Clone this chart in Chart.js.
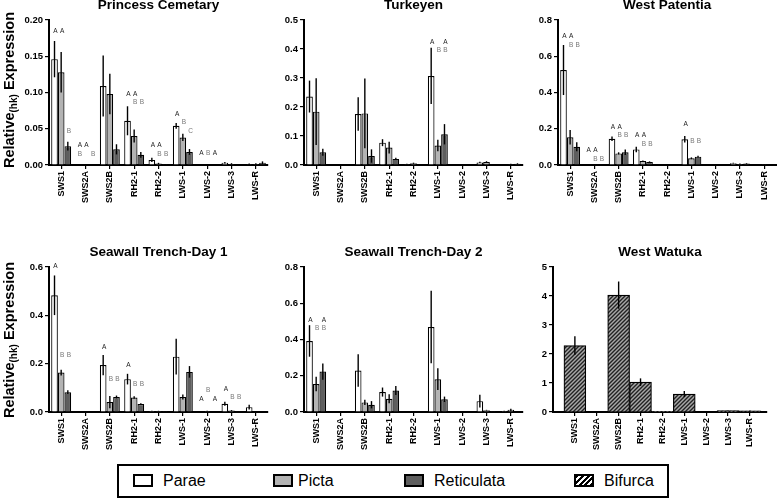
<!DOCTYPE html>
<html><head><meta charset="utf-8">
<script src="https://cdn.jsdelivr.net/npm/chart.js@4"></script>
<style>
html,body{margin:0;padding:0;background:#fff;}
body{width:777px;height:500px;position:relative;overflow:hidden;font-family:'Liberation Sans',Arial,sans-serif;}
canvas{position:absolute;}
.ylab{position:absolute;width:220px;height:18px;line-height:18px;text-align:center;font-weight:bold;font-size:14.5px;transform:rotate(-90deg);white-space:nowrap;color:#000;}
.ylab sub{font-size:10px;vertical-align:-3px;line-height:0;}
#legend{position:absolute;left:117px;top:464px;width:552px;height:34px;border:2px solid #000;box-sizing:border-box;}
.lbox{position:absolute;top:474px;width:20px;height:13px;border:2px solid #000;box-sizing:border-box;}
.ltxt{position:absolute;top:471px;font-size:16px;line-height:20px;color:#000;}
</style>
</head><body>
<canvas id="c1" width="270" height="213" style="left:0px;top:-3px"></canvas>
<canvas id="c2" width="270" height="213" style="left:255px;top:-3px"></canvas>
<canvas id="c3" width="268" height="213" style="left:509px;top:-3px"></canvas>
<canvas id="c4" width="270" height="213" style="left:0px;top:244px"></canvas>
<canvas id="c5" width="270" height="213" style="left:255px;top:244px"></canvas>
<canvas id="c6" width="260" height="213" style="left:509px;top:244px"></canvas>
<div class="ylab" style="left:-101px;top:81px">Relative<sub>(hk)</sub> Expression</div>
<div class="ylab" style="left:-101px;top:331px">Relative<sub>(hk)</sub> Expression</div>
<div id="legend"></div>
<div class="lbox" style="left:133px;background:#fff"></div><div class="ltxt" style="left:163px">Parae</div>
<div class="lbox" style="left:273px;background:#b3b3b3"></div><div class="ltxt" style="left:298px">Picta</div>
<div class="lbox" style="left:404px;background:#5e5e5e"></div><div class="ltxt" style="left:434px">Reticulata</div>
<div class="lbox" style="left:574px;background:repeating-linear-gradient(135deg,#000 0 2px,#fff 2px 4px)"></div><div class="ltxt" style="left:604px">Bifurca</div>
<script>
// ---- categories and series ----
const categories = ['SWS1','SWS2A','SWS2B','RH2-1','RH2-2','LWS-1','LWS-2','LWS-3','LWS-R'];
const seriesNames = ['Parae','Picta','Reticulata','Bifurca'];

// Princess Cemetary
const pcParae        = [0.146, 0, 0.109, 0.061, 0.007, 0.054, 0, 0.003, 0.001];
const pcParaeErr     = [0.025, 0, 0.042, 0.020, 0.003, 0.004, 0, 0.001, 0.001];
const pcPicta        = [0.128, 0, 0.098, 0.040, 0.002, 0.038, 0, 0.0015, 0.0015];
const pcPictaErr     = [0.028, 0, 0.028, 0.009, 0.001, 0.005, 0, 0.001, 0.001];
const pcReticulata   = [0.026, 0, 0.0216, 0.014, 0.001, 0.018, 0, 0.0005, 0.003];
const pcReticulataErr= [0.006, 0, 0.007, 0.004, 0.0005, 0.004, 0, 0.0005, 0.002];
const pcLetters = [[0,0,'A',0.184],[0,1,'A',0.184],[0,2,'B',0.047],
  [1,0,'A',0.027],[1,1,'A',0.027],[1,0,'B',0.015],[1,2,'B',0.015],
  [3,0,'A',0.097],[3,1,'A',0.097],[3,1,'B',0.086],[3,2,'B',0.086],
  [4,0,'A',0.027],[4,1,'A',0.027],[4,1,'B',0.015],[4,2,'B',0.015],
  [5,0,'A',0.070],[5,1,'B',0.059],[5,2,'C',0.047],
  [6,0,'A',0.016],[6,1,'B',0.016],[6,2,'A',0.016]];

// Turkeyen
const tkParae        = [0.236, 0, 0.176, 0.077, 0.003, 0.307, 0, 0.009, 0.002];
const tkParaeErr     = [0.055, 0, 0.058, 0.012, 0.001, 0.097, 0, 0.002, 0.001];
const tkPicta        = [0.184, 0, 0.178, 0.060, 0.006, 0.067, 0, 0.010, 0.003];
const tkPictaErr     = [0.115, 0, 0.120, 0.020, 0.002, 0.020, 0, 0.003, 0.001];
const tkReticulata   = [0.044, 0, 0.031, 0.021, 0.001, 0.106, 0, 0.002, 0.004];
const tkReticulataErr= [0.012, 0, 0.023, 0.004, 0.001, 0.035, 0, 0.001, 0.002];
const tkLetters = [[5,0,'A',0.425],[5,2,'A',0.425],[5,1,'B',0.397],[5,2,'B',0.397]];

// West Patentia
const wpParae        = [0.524, 0, 0.145, 0.086, 0, 0.142, 0, 0.010, 0.003];
const wpParaeErr     = [0.138, 0, 0.012, 0.015, 0, 0.018, 0, 0.002, 0.001];
const wpPicta        = [0.153, 0, 0.064, 0.022, 0, 0.037, 0, 0.006, 0.004];
const wpPictaErr     = [0.040, 0, 0.006, 0.003, 0, 0.005, 0, 0.002, 0.001];
const wpReticulata   = [0.101, 0, 0.070, 0.017, 0, 0.046, 0, 0.008, 0.002];
const wpReticulataErr= [0.025, 0, 0.015, 0.003, 0, 0.005, 0, 0.002, 0.001];
const wpLetters = [[0,0,'A',0.708],[0,1,'A',0.708],[0,1,'B',0.662],[0,2,'B',0.662],
  [1,0,'A',0.079],[1,1,'A',0.079],[1,1,'B',0.031],[1,2,'B',0.031],
  [2,0,'A',0.210],[2,1,'A',0.210],[2,1,'B',0.162],[2,2,'B',0.162],
  [3,0,'A',0.162],[3,1,'A',0.162],[3,1,'B',0.114],[3,2,'B',0.114],
  [5,0,'A',0.224],[5,1,'B',0.129],[5,2,'B',0.129]];

// Seawall Trench-Day 1
const sd1Parae        = [0.483, 0, 0.194, 0.136, 0.004, 0.229, 0.001, 0.034, 0.020];
const sd1ParaeErr     = [0.082, 0, 0.042, 0.022, 0.001, 0.074, 0.001, 0.008, 0.010];
const sd1Picta        = [0.163, 0, 0.041, 0.060, 0.004, 0.062, 0.004, 0.006, 0.002];
const sd1PictaErr     = [0.012, 0, 0.025, 0.005, 0.001, 0.010, 0.001, 0.002, 0.001];
const sd1Reticulata   = [0.082, 0, 0.062, 0.033, 0.003, 0.166, 0.001, 0.003, 0.001];
const sd1ReticulataErr= [0.008, 0, 0.006, 0.003, 0.001, 0.024, 0.001, 0.001, 0.001];
const sd1Letters = [[0,0,'A',0.603],[0,1,'B',0.236],[0,2,'B',0.236],
  [2,0,'A',0.268],[2,1,'B',0.137],[2,2,'B',0.137],
  [3,0,'A',0.195],[3,1,'B',0.113],[3,2,'B',0.113],
  [6,0,'A',0.055],[6,1,'B',0.092],[6,2,'A',0.055],
  [7,0,'A',0.095],[7,1,'B',0.060],[7,2,'B',0.060]];

// Seawall Trench-Day 2
const sd2Parae        = [0.392, 0, 0.229, 0.110, 0.003, 0.469, 0, 0.060, 0.005];
const sd2ParaeErr     = [0.087, 0, 0.090, 0.025, 0.001, 0.200, 0, 0.035, 0.002];
const sd2Picta        = [0.154, 0, 0.053, 0.073, 0.001, 0.181, 0, 0.010, 0.012];
const sd2PictaErr     = [0.040, 0, 0.015, 0.025, 0.001, 0.060, 0, 0.002, 0.006];
const sd2Reticulata   = [0.223, 0, 0.040, 0.119, 0, 0.070, 0, 0.004, 0.003];
const sd2ReticulataErr= [0.045, 0, 0.020, 0.025, 0, 0.015, 0, 0.001, 0.001];
const sd2Letters = [[0,0,'A',0.507],[0,1,'B',0.460],[0,2,'A',0.507],[0,2,'B',0.460]];

// West Watuka
const wwBifurca    = [2.29, 0, 4.03, 1.03, 0.01, 0.62, 0, 0.05, 0.04];
const wwBifurcaErr = [0.32, 0, 0.47, 0.13, 0, 0.10, 0, 0.01, 0.01];

// ---- styling ----
const FONT = "'Liberation Sans', Arial, sans-serif";
const NARROW = "'Liberation Sans Narrow', 'Liberation Sans', Arial, sans-serif";
const COLORS = {Parae:'#ffffff', Picta:'#b3b3b3', Reticulata:'#5e5e5e'};
Chart.defaults.font.family = FONT;
Chart.defaults.color = '#000';

function hatchPattern(){
  const c = document.createElement('canvas'); c.width = 4; c.height = 4;
  const g = c.getContext('2d');
  g.fillStyle = '#a8a8a8'; g.fillRect(0,0,4,4);
  g.strokeStyle = '#222'; g.lineWidth = 1.4; g.beginPath();
  g.moveTo(-1,5); g.lineTo(5,-1); g.moveTo(-1,1); g.lineTo(1,-1); g.moveTo(3,5); g.lineTo(5,3);
  g.stroke();
  return g.createPattern(c,'repeat');
}

const errorBars = {
  id:'errorBars',
  afterDatasetsDraw(chart){
    const ctx = chart.ctx, y = chart.scales.y;
    ctx.save(); ctx.strokeStyle = '#000'; ctx.lineWidth = 1.4;
    chart.data.datasets.forEach((ds,i)=>{
      const meta = chart.getDatasetMeta(i);
      (ds.errors||[]).forEach((e,j)=>{
        if(!e) return;
        const v = ds.data[j], bar = meta.data[j];
        ctx.beginPath();
        ctx.moveTo(bar.x, y.getPixelForValue(v+e));
        ctx.lineTo(bar.x, y.getPixelForValue(Math.max(v-e,0)));
        ctx.stroke();
      });
    });
    ctx.restore();
  }
};

function lettersPlugin(items){
  return {
    id:'letters',
    afterDatasetsDraw(chart){
      const ctx = chart.ctx, y = chart.scales.y;
      ctx.save(); ctx.font = '6.5px ' + FONT; ctx.textAlign = 'center'; ctx.textBaseline = 'middle';
      items.forEach(([cat, s, txt, val])=>{
        const bar = chart.getDatasetMeta(s).data[cat];
        ctx.fillStyle = txt === 'A' ? '#222' : '#777';
        ctx.fillText(txt, bar.x + 1, y.getPixelForValue(val));
      });
      ctx.restore();
    }
  };
}

function makePanel(id, title, datasets, yMax, yStep, decimals, yWidth, padRight, letters, xHook){
  const xScale = {
    type:'category', offset:true,
    grid:{drawOnChartArea:false, offset:false, tickLength:4, color:'#000', lineWidth:1.2},
    border:{color:'#000', width:2},
    ticks:{minRotation:90, maxRotation:90, autoSkip:false, padding:2, color:'#000',
           font:{family:NARROW, size:9, weight:'bold'}},
    afterFit(s){ s.height = 45; }
  };
  if (xHook) xScale.afterBuildTicks = xHook;
  new Chart(document.getElementById(id), {
    type:'bar',
    data:{labels:categories, datasets},
    options:{
      responsive:false, animation:false, events:[],
      layout:{padding:{left:0, right:padRight, top:0, bottom:0}},
      datasets:{bar:{categoryPercentage: datasets.length > 1 ? 0.82 : 1, barPercentage:1,
                     borderColor:'#000', borderWidth:1.2}},
      plugins:{
        legend:{display:false}, tooltip:{enabled:false},
        title:{display:true, text:title, fullSize:false, color:'#000',
               font:{family:FONT, size:13.5, weight:'bold'}, padding:{top:0, bottom:6.8}}
      },
      scales:{
        x:xScale,
        y:{min:0, max:yMax,
           grid:{drawOnChartArea:false, tickLength:4, color:'#000', lineWidth:1.2},
           border:{color:'#000', width:2},
           ticks:{stepSize:yStep, padding:2, color:'#000', font:{family:FONT, size:9.5, weight:'bold'},
                  callback:(v)=>Number(v).toFixed(decimals)},
           afterFit(s){ s.width = yWidth; }}
      }
    },
    plugins:[errorBars, lettersPlugin(letters || [])]
  });
}

function three(p, pe, q, qe, r, re){
  return [
    {label:seriesNames[0], data:p, errors:pe, backgroundColor:COLORS.Parae},
    {label:seriesNames[1], data:q, errors:qe, backgroundColor:COLORS.Picta},
    {label:seriesNames[2], data:r, errors:re, backgroundColor:COLORS.Reticulata}
  ];
}

makePanel('c1','Princess Cemetary', three(pcParae,pcParaeErr,pcPicta,pcPictaErr,pcReticulata,pcReticulataErr), 0.20, 0.05, 2, 49, 2, pcLetters);
makePanel('c2','Turkeyen', three(tkParae,tkParaeErr,tkPicta,tkPictaErr,tkReticulata,tkReticulataErr), 0.5, 0.1, 1, 49, 2, tkLetters);
makePanel('c3','West Patentia', three(wpParae,wpParaeErr,wpPicta,wpPictaErr,wpReticulata,wpReticulataErr), 0.8, 0.2, 1, 49, 0, wpLetters);
makePanel('c4','Seawall Trench-Day 1', three(sd1Parae,sd1ParaeErr,sd1Picta,sd1PictaErr,sd1Reticulata,sd1ReticulataErr), 0.6, 0.2, 1, 49, 2, sd1Letters);
makePanel('c5','Seawall Trench-Day 2', three(sd2Parae,sd2ParaeErr,sd2Picta,sd2PictaErr,sd2Reticulata,sd2ReticulataErr), 0.8, 0.2, 1, 49, 2, sd2Letters);
makePanel('c6','West Watuka',
  [{label:seriesNames[3], data:wwBifurca, errors:wwBifurcaErr, backgroundColor:hatchPattern()}],
  5, 1, 0, 44, 2, [],
  function(s){ s._startValue = -1.0; s._valueRange = 9.78; });
</script>
</body></html>
